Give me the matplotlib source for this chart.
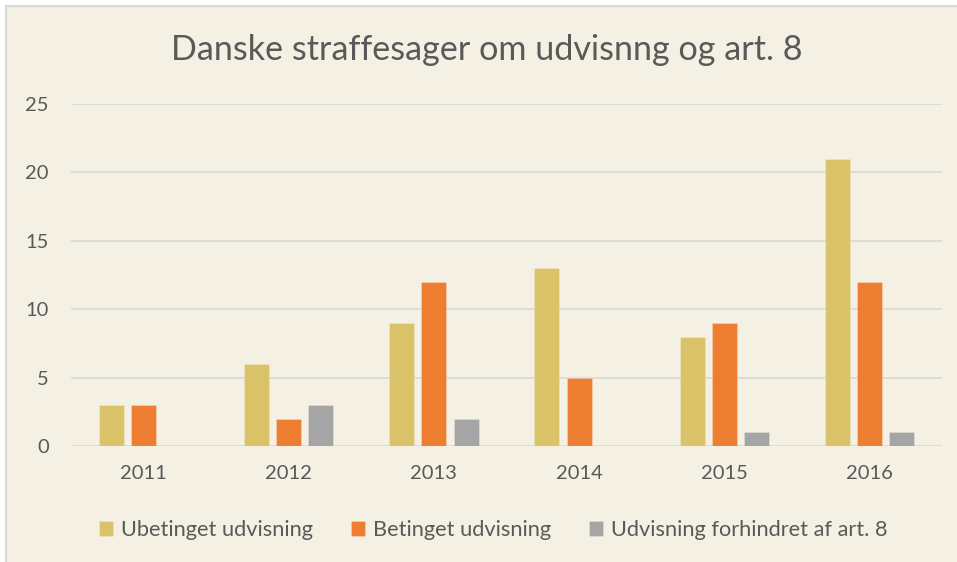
import matplotlib.pyplot as plt
import numpy as np
from matplotlib.patches import Rectangle

years = ['2011', '2012', '2013', '2014', '2015', '2016']
ubetinget = [3, 6, 9, 13, 8, 21]
betinget = [3, 2, 12, 5, 9, 12]
forhindret = [0, 3, 2, 0, 1, 1]

labels = ['Ubetinget udvisning', 'Betinget udvisning', 'Udvisning forhindret af art. 8']
colors = ['#D9C267', '#ED7D31', '#A5A5A5']
bg = '#F4F0E3'
txt = '#595959'

plt.rcParams['font.family'] = ['Lato', 'DejaVu Sans']

W, H = 957, 562
fig = plt.figure(figsize=(W / 100, H / 100), dpi=100)
fig.patch.set_facecolor('white')

# chart area with thin grey border (left/top visible)
fig.patches.append(Rectangle((6 / W, -0.01), 1.02, 1 - 6 / H + 0.01, transform=fig.transFigure,
                             facecolor=bg, edgecolor='#D9D9D9', linewidth=1.5, zorder=-10))

ax = fig.add_axes([71 / W, 1 - 446 / H, (942 - 71) / W, (446 - 104) / H])
ax.set_facecolor('none')

x = np.arange(len(years))
w = 0.172
step = 0.222
for i, (vals, c, lab) in enumerate(zip([ubetinget, betinget, forhindret], colors, labels)):
    ax.bar(x + (i - 1) * step, vals, width=w, color=c, label=lab, zorder=3,
           edgecolor=(1, 1, 1, 0.25), linewidth=0.6)

ax.set_xlim(-0.5, len(years) - 0.5)
ax.set_ylim(0, 25)
ax.set_yticks(range(0, 26, 5))
ax.set_xticks(x)
ax.set_xticklabels(years)
ax.grid(axis='y', color='#D9D9D9', linewidth=1.2, zorder=0)
for s in ax.spines.values():
    s.set_visible(False)
ax.tick_params(length=0, labelsize=14.5, colors=txt)
ax.tick_params(axis='y', pad=16)
ax.tick_params(axis='x', pad=14)

fig.text(487 / W, 1 - 50 / H, 'Danske straffesager om udvisnng og art. 8',
         ha='center', va='center', fontsize=24.6, color=txt)

leg = ax.legend(loc='center', bbox_to_anchor=(493 / W, 1 - 530 / H), bbox_transform=fig.transFigure,
                ncol=3, frameon=False, fontsize=15.7, handlelength=0.65, handleheight=0.65,
                handletextpad=0.35, columnspacing=1.75)
for t in leg.get_texts():
    t.set_color(txt)

fig.savefig('out.png', dpi=100, facecolor='white')
